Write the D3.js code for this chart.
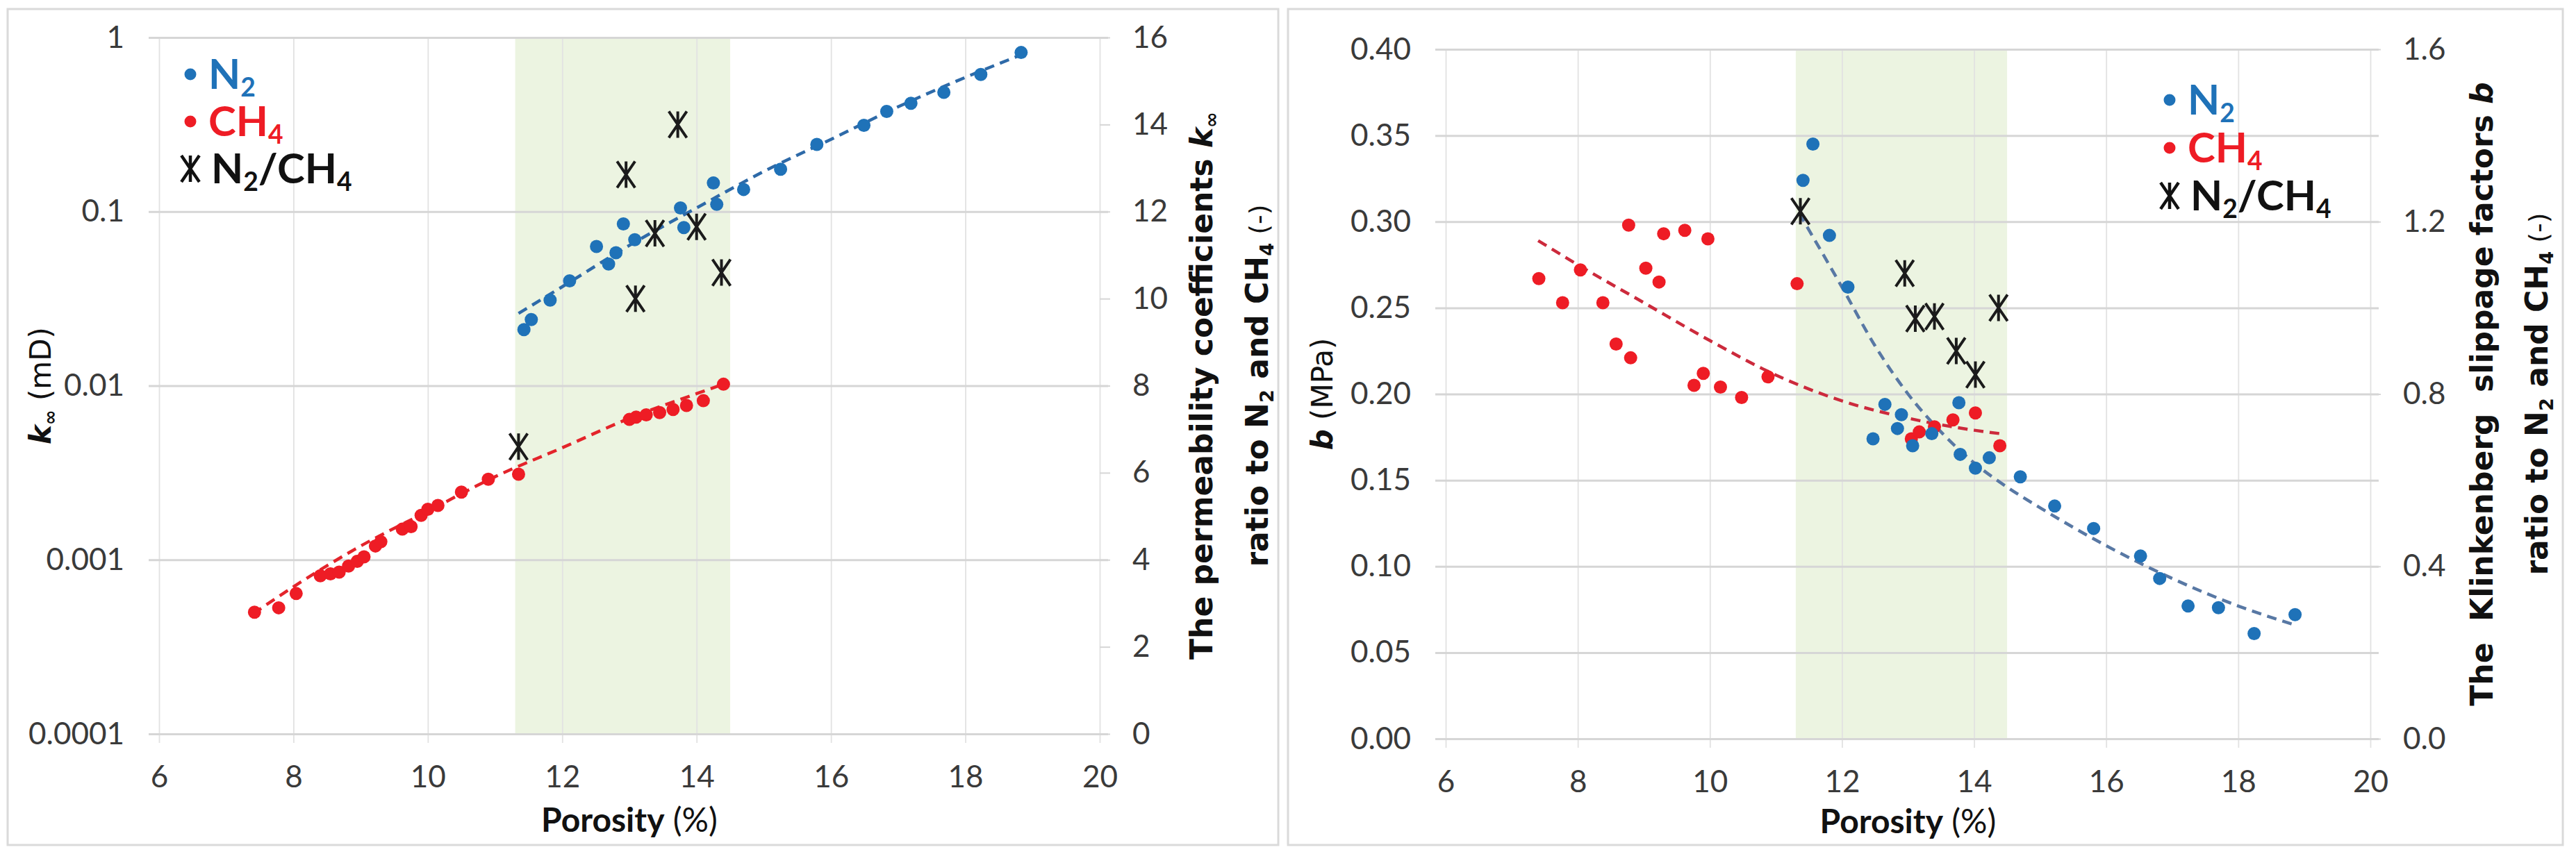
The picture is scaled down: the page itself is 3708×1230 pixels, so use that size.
<!DOCTYPE html>
<html>
<head>
<meta charset="utf-8">
<script src="https://cdn.jsdelivr.net/npm/d3@7"></script>
<style>
  body { margin: 0; background: #fff; }
  .grid .domain, .ticks .domain { display: none; }
  .hgrid line { stroke: #d6d6d6; stroke-width: 3; }
  .vgrid line { stroke: #e2e2e2; stroke-width: 1.8; }
  .rtick line { stroke: #d6d6d6; stroke-width: 2; }
  .ticks text { font-family: Lato, "Open Sans", sans-serif; font-size: 44px; fill: #3a3a3a; }
  .title { font-family: "DejaVu Sans", sans-serif; fill: #111; }
  .legend text { font-family: Lato, sans-serif; font-weight: bold; font-size: 60px; }
</style>
</head>
<body>
<svg id="chart"></svg>
<script>
const width = 3708;
const height = 1230;

// shared x axis
const porosityTicks = [6, 8, 10, 12, 14, 16, 18, 20];
const bandRange = [11.3, 14.5];

// left panel: apparent permeability k (mD), log axis
const kTicks = [0.0001, 0.001, 0.01, 0.1, 1];
const kTickLabels = ["0.0001", "0.001", "0.01", "0.1", "1"];
const kRatioTicks = [0, 2, 4, 6, 8, 10, 12, 14, 16];

const kN2 = [
    [11.43, 0.021], [11.54, 0.024], [11.82, 0.031], [12.11, 0.040], [12.51, 0.063],
    [12.69, 0.050], [12.80, 0.058], [12.91, 0.085], [13.08, 0.069], [13.76, 0.105],
    [13.81, 0.081], [14.25, 0.146], [14.30, 0.110], [14.70, 0.134], [15.25, 0.175],
    [15.79, 0.243], [16.49, 0.313], [16.83, 0.376], [17.19, 0.419], [17.68, 0.484],
    [18.23, 0.613], [18.83, 0.82]
];
const kCH4 = [
    [7.42, 0.00050], [7.78, 0.00053], [8.04, 0.00064], [8.40, 0.00081], [8.55, 0.00083],
    [8.68, 0.00085], [8.82, 0.00092], [8.95, 0.00098], [9.05, 0.00104], [9.22, 0.00120],
    [9.30, 0.00127], [9.62, 0.00150], [9.75, 0.00155], [9.90, 0.00180], [10.00, 0.00195],
    [10.15, 0.00205], [10.50, 0.00245], [10.90, 0.00290], [11.35, 0.00310], [13.00, 0.0064],
    [13.10, 0.0066], [13.25, 0.0068], [13.45, 0.0070], [13.65, 0.0073], [13.85, 0.0077],
    [14.10, 0.0082], [14.40, 0.0102]
];
const kRatio = [
    [11.35, 6.6], [12.95, 12.85], [13.09, 10.0], [13.38, 11.5], [13.72, 14.0], [14.00, 11.65], [14.37, 10.6]
];
const kN2Trend = [
    [11.35, 0.026], [12, 0.037], [13, 0.064], [14, 0.105], [15, 0.17], [16, 0.26], [17, 0.40], [18, 0.59], [18.85, 0.80]
];
const kCH4Trend = [
    [7.4, 0.00049], [8, 0.0007], [9, 0.0012], [10, 0.0019], [11, 0.0030], [12, 0.0044], [13, 0.0065], [14, 0.0090], [14.4, 0.0102]
];

// right panel: Klinkenberg slippage factor b (MPa)
const bTicks = [0, 0.05, 0.10, 0.15, 0.20, 0.25, 0.30, 0.35, 0.40];
const bRatioTicks = [0, 0.4, 0.8, 1.2, 1.6];

const bN2 = [
    [11.41, 0.324], [11.56, 0.345], [11.81, 0.292], [12.09, 0.262], [12.47, 0.174],
    [12.65, 0.194], [12.84, 0.180], [12.90, 0.188], [13.07, 0.170], [13.36, 0.177],
    [13.77, 0.195], [13.79, 0.165], [14.02, 0.157], [14.23, 0.163], [14.70, 0.152],
    [15.22, 0.135], [15.81, 0.122], [16.52, 0.106], [16.81, 0.093], [17.24, 0.077],
    [17.70, 0.076], [18.24, 0.061], [18.86, 0.072]
];
const bCH4 = [
    [7.41, 0.267], [7.77, 0.253], [8.04, 0.272], [8.38, 0.253], [8.58, 0.229],
    [8.77, 0.298], [8.80, 0.221], [9.03, 0.273], [9.23, 0.265], [9.30, 0.293],
    [9.62, 0.295], [9.76, 0.205], [9.90, 0.212], [9.97, 0.290], [10.16, 0.204],
    [10.48, 0.198], [10.88, 0.210], [11.32, 0.264], [13.05, 0.174], [13.17, 0.178],
    [13.40, 0.181], [13.68, 0.185], [14.02, 0.189], [14.39, 0.170]
];
const bRatio = [
    [11.37, 1.224], [12.95, 1.08], [13.11, 0.975], [13.40, 0.98], [13.73, 0.90], [14.02, 0.845], [14.37, 1.0]
];
const bN2Trend = [
    [11.35, 0.305], [12, 0.262], [12.5, 0.228], [13, 0.200], [13.5, 0.178], [14, 0.160],
    [14.5, 0.146], [15, 0.134], [16, 0.112], [17, 0.093], [18, 0.077], [18.86, 0.066]
];
const bCH4Trend = [
    [7.4, 0.289], [8, 0.275], [9, 0.253], [10, 0.231], [11, 0.211], [12, 0.196], [13, 0.186], [14, 0.179], [14.4, 0.177]
];

const blue = "#1f72b8";
const red = "#ee1c25";

// Excel style star marker: vertical bar crossed by an X
const starMarker = {
    draw(context, size) {
        const h = Math.sqrt(size) / 2;
        const w = h * 0.68;
        context.moveTo(0, -h);
        context.lineTo(0, h);
        context.moveTo(-w, -h);
        context.lineTo(w, h);
        context.moveTo(-w, h);
        context.lineTo(w, -h);
    }
};

const svg = d3.select("#chart")
    .attr("width", width)
    .attr("height", height)
    .style("background", "#fff");

// text with sub-scripts / italics: parts = [{t, sub, it, bold}]
function richText(text, parts, size) {
    let shifted = false;
    parts.forEach(p => {
        const ts = text.append("tspan").text(p.t);
        if (p.it) ts.attr("font-style", "italic");
        if (p.bold === true) ts.attr("font-weight", "bold");
        if (p.bold === false) ts.attr("font-weight", "normal");
        if (p.size) ts.attr("font-size", p.size);
        if (p.sub && !shifted) {
            ts.attr("font-size", size * 0.62).attr("dy", size * 0.18);
            shifted = true;
        } else if (!p.sub && shifted) {
            ts.attr("dy", -size * 0.18);
            shifted = false;
        }
    });
}

function drawPanel(cfg) {
    const { frame, x0, x1, yTop, yBottom } = cfg;

    const x = d3.scaleLinear().domain([6, 20]).range([x0, x1]);
    const yL = cfg.logLeft
        ? d3.scaleLog().domain([kTicks[0], kTicks[kTicks.length - 1]]).range([yBottom, yTop])
        : d3.scaleLinear().domain([0, 0.4]).range([yBottom, yTop]);
    const yR = d3.scaleLinear().domain(cfg.rightDomain).range([yBottom, yTop]);

    const g = svg.append("g");

    // panel frame
    g.append("rect")
        .attr("x", frame[0]).attr("y", frame[1])
        .attr("width", frame[2] - frame[0]).attr("height", frame[3] - frame[1])
        .attr("fill", "#fff").attr("stroke", "#dadada").attr("stroke-width", 3);

    // highlighted porosity range
    g.append("rect")
        .attr("x", x(bandRange[0]))
        .attr("y", yTop)
        .attr("width", x(bandRange[1]) - x(bandRange[0]))
        .attr("height", yBottom - yTop)
        .attr("fill", "#ecf4e1");

    // grid lines
    g.append("g")
        .attr("class", "grid vgrid")
        .attr("transform", `translate(0,${yBottom + 13})`)
        .call(d3.axisBottom(x).tickValues(porosityTicks).tickSize(-(yBottom - yTop + 13)).tickFormat(""));

    g.append("g")
        .attr("class", "grid hgrid")
        .attr("transform", `translate(${x0 - 15},0)`)
        .call(d3.axisLeft(yL).tickValues(cfg.leftTicks).tickSize(-(x1 - x0 + 27)).tickFormat(""));

    g.append("g")
        .attr("class", "grid rtick")
        .attr("transform", `translate(${x1},0)`)
        .call(d3.axisRight(yR).tickValues(cfg.rightTicks).tickSize(15).tickFormat(""));

    // tick labels
    g.append("g")
        .attr("class", "ticks")
        .attr("transform", `translate(${x0},0)`)
        .call(d3.axisLeft(yL).tickValues(cfg.leftTicks).tickFormat(cfg.leftFormat).tickSize(0).tickPadding(50));

    g.append("g")
        .attr("class", "ticks")
        .attr("transform", `translate(${x1},0)`)
        .call(d3.axisRight(yR).tickValues(cfg.rightTicks).tickFormat(cfg.rightFormat).tickSize(0).tickPadding(47));

    g.append("g")
        .attr("class", "ticks")
        .attr("transform", `translate(0,${yBottom})`)
        .call(d3.axisBottom(x).tickValues(porosityTicks).tickFormat(d3.format("d")).tickSize(0).tickPadding(46));

    // trend lines
    const line = d3.line()
        .curve(d3.curveMonotoneX)
        .x(d => x(d[0]))
        .y(d => yL(d[1]));

    g.append("path")
        .datum(cfg.ch4Trend)
        .attr("d", line)
        .attr("fill", "none")
        .attr("stroke", cfg.ch4TrendColor)
        .attr("stroke-width", 4.5)
        .attr("stroke-dasharray", "14,9");

    g.append("path")
        .datum(cfg.n2Trend)
        .attr("d", line)
        .attr("fill", "none")
        .attr("stroke", cfg.n2TrendColor)
        .attr("stroke-width", 4.5)
        .attr("stroke-dasharray", "14,9");

    // points
    g.append("g").selectAll("circle")
        .data(cfg.ch4)
        .enter()
        .append("circle")
        .attr("cx", d => x(d[0]))
        .attr("cy", d => yL(d[1]))
        .attr("r", 9.5)
        .attr("fill", red);

    g.append("g").selectAll("circle")
        .data(cfg.n2)
        .enter()
        .append("circle")
        .attr("cx", d => x(d[0]))
        .attr("cy", d => yL(d[1]))
        .attr("r", 9.5)
        .attr("fill", blue);

    const star = d3.symbol(starMarker).size(38 * 38);
    g.append("g").selectAll("path")
        .data(cfg.ratio)
        .enter()
        .append("path")
        .attr("d", star)
        .attr("transform", d => `translate(${x(d[0])},${yR(d[1])})`)
        .attr("fill", "none")
        .attr("stroke", "#1b1b1b")
        .attr("stroke-width", 4);

    // legend
    const lg = g.append("g").attr("class", "legend");
    const rows = [
        { color: blue, parts: [{ t: "N" }, { t: "2", sub: true }] },
        { color: red, parts: [{ t: "CH" }, { t: "4", sub: true }] },
        { color: "#111", parts: [{ t: "N" }, { t: "2", sub: true }, { t: "/CH" }, { t: "4", sub: true }], star: true }
    ];
    rows.forEach((r, i) => {
        const cy = cfg.legend[1] + i * cfg.legendStep;
        if (r.star) {
            lg.append("path")
                .attr("d", d3.symbol(starMarker).size(38 * 38))
                .attr("transform", `translate(${cfg.legend[0]},${cy})`)
                .attr("fill", "none")
                .attr("stroke", "#111")
                .attr("stroke-width", 4.5);
        } else {
            lg.append("circle")
                .attr("cx", cfg.legend[0])
                .attr("cy", cy)
                .attr("r", 8.5)
                .attr("fill", r.color);
        }
        const t = lg.append("text")
            .attr("x", cfg.legend[0] + (r.star ? 30 : 26))
            .attr("y", cy + 21)
            .attr("fill", r.color);
        richText(t, r.parts, 60);
    });

    // axis titles
    const lt = g.append("text")
        .attr("class", "title")
        .attr("transform", `translate(${cfg.leftTitleX},${(yTop + yBottom) / 2}) rotate(-90)`)
        .attr("text-anchor", "middle")
        .attr("font-size", 42);
    richText(lt, cfg.leftTitle, 42);

    cfg.rightTitle.forEach((parts, i) => {
        const rt = g.append("text")
            .attr("class", "title")
            .attr("transform", `translate(${cfg.rightTitleX[i]},${(yTop + yBottom) / 2}) rotate(-90)`)
            .attr("text-anchor", "middle")
            .attr("font-size", 44)
            .attr("font-weight", "bold");
        richText(rt, parts, 44);
    });

    const xt = g.append("text")
        .attr("x", (x0 + x1) / 2)
        .attr("y", cfg.xTitleY)
        .attr("text-anchor", "middle")
        .attr("font-family", "Lato, sans-serif")
        .attr("font-size", 48)
        .attr("fill", "#111");
    richText(xt, [{ t: "Porosity", bold: true }, { t: " (%)", bold: false }], 48);
}

const ratioLine = [{ t: "ratio to N" }, { t: "2", sub: true }, { t: " and CH" }, { t: "4", sub: true }, { t: " (-)", bold: false, size: 38 }];

drawPanel({
    frame: [11, 13, 1840, 1217],
    x0: 229, x1: 1583, yTop: 54, yBottom: 1057,
    logLeft: true,
    leftTicks: kTicks,
    leftFormat: (d, i) => kTickLabels[i],
    rightDomain: [0, 16],
    rightTicks: kRatioTicks,
    rightFormat: d3.format("d"),
    n2: kN2, ch4: kCH4, ratio: kRatio,
    n2Trend: kN2Trend, ch4Trend: kCH4Trend,
    n2TrendColor: "#2e6aa8", ch4TrendColor: "#e3242b",
    legend: [274, 107], legendStep: 68,
    leftTitleX: 73,
    leftTitle: [{ t: "k", it: true, bold: true }, { t: "∞", sub: true, bold: true }, { t: " (mD)", bold: false }],
    rightTitleX: [1745, 1825],
    rightTitle: [
        [{ t: "The permeability coefficients " }, { t: "k", it: true }, { t: "∞", sub: true }],
        ratioLine
    ],
    xTitleY: 1198
});

drawPanel({
    frame: [1854, 13, 3689, 1217],
    x0: 2081, x1: 3412, yTop: 71, yBottom: 1064,
    logLeft: false,
    leftTicks: bTicks,
    leftFormat: d3.format(".2f"),
    rightDomain: [0, 1.6],
    rightTicks: bRatioTicks,
    rightFormat: d3.format(".1f"),
    n2: bN2, ch4: bCH4, ratio: bRatio,
    n2Trend: bN2Trend, ch4Trend: bCH4Trend,
    n2TrendColor: "#5878a4", ch4TrendColor: "#cc2a3c",
    legend: [3123, 144], legendStep: 69,
    leftTitleX: 1918,
    leftTitle: [{ t: "b", it: true, bold: true }, { t: " (MPa)", bold: false }],
    rightTitleX: [3588, 3667],
    rightTitle: [
        [{ t: "The\u00A0 Klinkenberg\u00A0 slippage factors " }, { t: "b", it: true }],
        ratioLine
    ],
    xTitleY: 1200
});
</script>
</body>
</html>
